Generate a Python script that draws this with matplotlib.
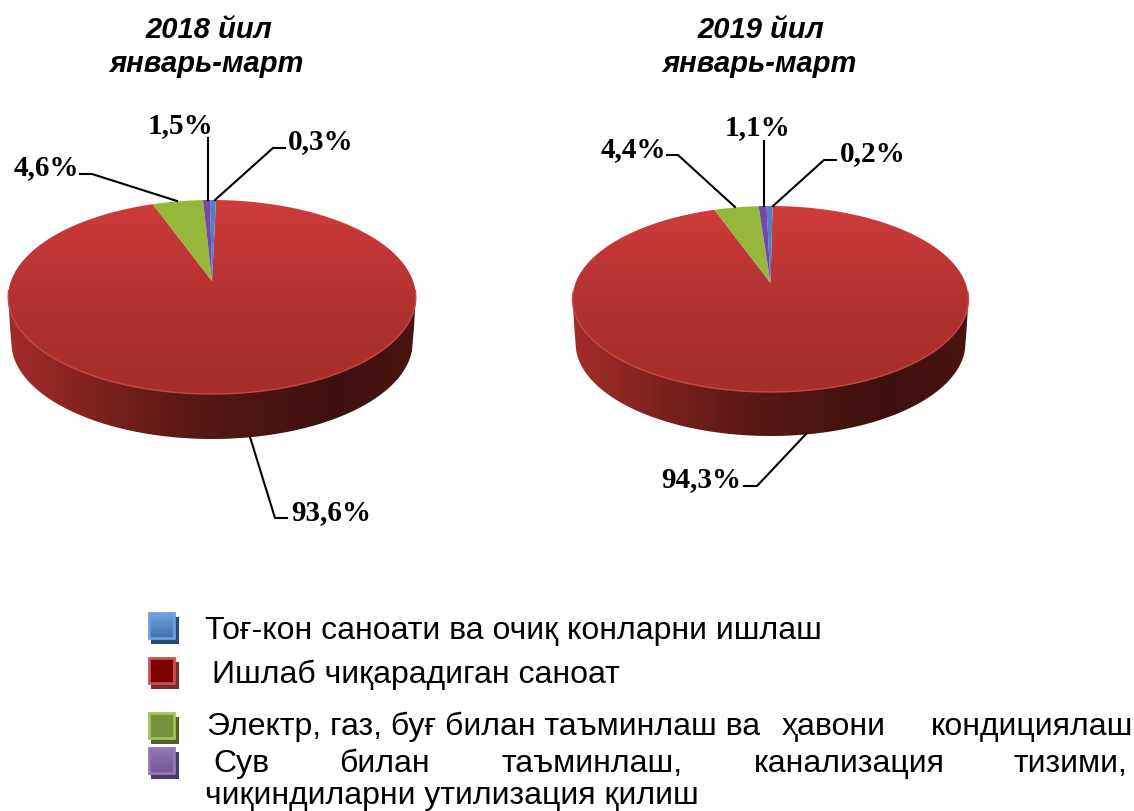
import matplotlib
matplotlib.use("Agg")
import matplotlib.pyplot as plt
import numpy as np
from matplotlib.patches import Polygon, Rectangle
from matplotlib.colors import LinearSegmentedColormap

# slice sizes as they look in the picture, clockwise from the first slice
categories = ["mining", "manufacturing", "power", "water"]
shares_2018 = [0.55, 94.1, 4.7, 0.65]
shares_2019 = [0.58, 94.38, 4.28, 0.76]
# printed labels
labels_2018 = ["0,3%", "93,6%", "4,6%", "1,5%"]
labels_2019 = ["0,2%", "94,3%", "4,4%", "1,1%"]
titles = [["2018 йил", "январь-март"], ["2019 йил", "январь-март"]]

slice_colors = ["#4f7fc4", None, "#95b83c", "#7449a8"]
top_cmap = LinearSegmentedColormap.from_list("top", ["#cf3c3b", "#b23230", "#a62e2c"])
wall_cmap = LinearSegmentedColormap.from_list(
    "wall", ["#a32c2a", "#80231f", "#5f1a16", "#4c1511", "#3d100d", "#4a1410"])

fig = plt.figure(figsize=(11.34, 8.12), dpi=100)
ax = fig.add_axes([0, 0, 1, 1])
ax.set_xlim(0, 1134)
ax.set_ylim(812, 0)
ax.axis("off")


def make_mapper(cx, k, y_top, y_apex, y_bot):
    # disc -> picture, simple perspective so the apex sits above the ellipse centre
    c = (2 * y_apex - y_top - y_bot) / (y_top - y_bot)
    a = y_top * (c + 1) - y_apex

    def mapper(u, v):
        w = c * v + 1
        return cx + k * u / w, (a * v + y_apex) / w
    return mapper


def draw_pie(shares, start, cx, k, y_top, y_apex, y_bot, depth):
    m = make_mapper(cx, k, y_top, y_apex, y_bot)
    t = np.linspace(0, 2 * np.pi, 721)
    ox, oy = m(np.sin(t), np.cos(t))

    # side wall
    low = np.linspace(np.pi / 2 + 0.25, 3 * np.pi / 2 - 0.25, 300)
    lx, ly = m(np.sin(low), np.cos(low))
    left = ox.min()
    right = ox.max()
    bx = cx + (lx - cx) * 0.985
    wall = np.column_stack([np.r_[left, lx[::-1], right, right - 2, bx, left + 2],
                            np.r_[oy[np.argmin(ox)], ly[::-1], oy[np.argmax(ox)],
                                  oy[np.argmax(ox)] + depth - 12, ly + depth,
                                  oy[np.argmin(ox)] + depth - 12]])
    grad = np.linspace(0, 1, 256).reshape(1, -1)
    im = ax.imshow(grad, cmap=wall_cmap, aspect="auto", zorder=2,
                   extent=[left, right, y_bot + depth, y_bot - 110])
    im.set_clip_path(Polygon(wall, closed=True, transform=ax.transData))

    # top face, slices from the shares
    edges = start + np.cumsum([0] + list(shares)) / 100 * 2 * np.pi
    apex = m(0.0, 0.0)
    for i in range(len(shares)):
        th = np.linspace(edges[i], edges[i + 1], 400)
        x, y = m(np.sin(th), np.cos(th))
        poly = np.column_stack([np.r_[apex[0], x], np.r_[apex[1], y]])
        if slice_colors[i] is None:
            g = np.linspace(0, 1, 256).reshape(-1, 1)
            im = ax.imshow(g, cmap=top_cmap, aspect="auto", zorder=3,
                           extent=[left, right, y_bot, y_top])
            im.set_clip_path(Polygon(poly, closed=True, transform=ax.transData))
        else:
            ax.add_patch(Polygon(poly, closed=True, facecolor=slice_colors[i],
                                 edgecolor="none", zorder=4))
    # bevel along the front rim
    rim = np.linspace(np.pi / 2 + 0.1, 3 * np.pi / 2 - 0.1, 300)
    rx, ry = m(np.sin(rim), np.cos(rim))
    ax.plot(rx, ry, color="#c9473f", lw=1.0, zorder=5)
    ax.set_xlim(0, 1134)
    ax.set_ylim(812, 0)


draw_pie(shares_2018, -0.18 / 100 * 2 * np.pi, 212, 201, 201, 282, 395, 45)
draw_pie(shares_2019, -0.38 / 100 * 2 * np.pi, 770.5, 195, 207, 284, 393, 44)

# leader lines
leaders = [
    [(80, 175), (92, 175), (177, 202)],
    [(208, 139), (208, 201)],
    [(285, 149), (273, 149), (215, 201)],
    [(250, 438), (275, 519), (287, 519)],
    [(667, 156), (678, 156), (735, 208)],
    [(764, 142), (764, 207)],
    [(836, 161), (824, 161), (773, 207)],
    [(806, 435), (757, 487), (744, 487)],
]
for pts in leaders:
    ax.plot([p[0] for p in pts], [p[1] for p in pts], color="black", lw=1.5, zorder=6)

serif = dict(family="Liberation Serif", weight="bold", fontsize=21, color="black", va="baseline", zorder=7)
ax.text(291, 520, labels_2018[1], **serif)
ax.text(14, 175, labels_2018[2], **serif)
ax.text(148, 133, labels_2018[3], **serif)
ax.text(288, 149, labels_2018[0], **serif)
ax.text(661, 487, labels_2019[1], **serif)
ax.text(601, 157, labels_2019[2], **serif)
ax.text(725, 135, labels_2019[3], **serif)
ax.text(840, 161, labels_2019[0], **serif)

head = dict(family="Liberation Sans", weight="bold", style="italic", fontsize=21,
            color="black", ha="center", va="baseline")
for tx1, tx2, pair in zip([209, 761], [207, 760], titles):
    ax.text(tx1, 38, pair[0], **head)
    ax.text(tx2, 72, pair[1], **head)

# legend swatches: (light fill, dark fill, border, shadow, top)
swatches = [
    ("#74a3dc", "#3f72b0", "#6f9fd8", "#2a4a75", 613),
    ("#7a0000", "#7a0000", "#c8504d", "#7b2c2a", 658),
    ("#76923c", "#76923c", "#a3c35f", "#4f6228", 713),
    ("#9478b8", "#74549a", "#9478b4", "#4a3a6a", 748),
]
for light, dark, border, shadow, top in swatches:
    ax.add_patch(Rectangle((151, top + 5), 28, 27, facecolor=shadow, edgecolor="none", zorder=2))
    cm = LinearSegmentedColormap.from_list("sw", [light, dark])
    ax.imshow(np.linspace(0, 1, 32).reshape(-1, 1), cmap=cm, aspect="auto", zorder=3,
              extent=[149, 174, top + 26, top + 1])
    ax.add_patch(Rectangle((149, top + 1), 25, 25, facecolor="none", edgecolor=border, lw=2, zorder=4))
ax.set_xlim(0, 1134)
ax.set_ylim(812, 0)

legend_words = [
    (205, 639, "Тоғ-кон саноати ва очиқ конларни ишлаш"),
    (212, 683, "Ишлаб чиқарадиган саноат"),
    (207, 735, "Электр, газ, буғ билан таъминлаш ва"),
    (782, 735, "ҳавони"),
    (931, 735, "кондициялаш"),
    (213, 772, "Сув"),
    (339, 772, "билан"),
    (501, 772, "таъминлаш,"),
    (754, 772, "канализация"),
    (1014, 772, "тизими,"),
    (205, 804, "чиқиндиларни утилизация қилиш"),
]
for x, y, s in legend_words:
    ax.text(x, y, s, family="Liberation Sans", fontsize=23, color="black", va="baseline", zorder=7)

fig.savefig("out.png", dpi=100, facecolor="white")
